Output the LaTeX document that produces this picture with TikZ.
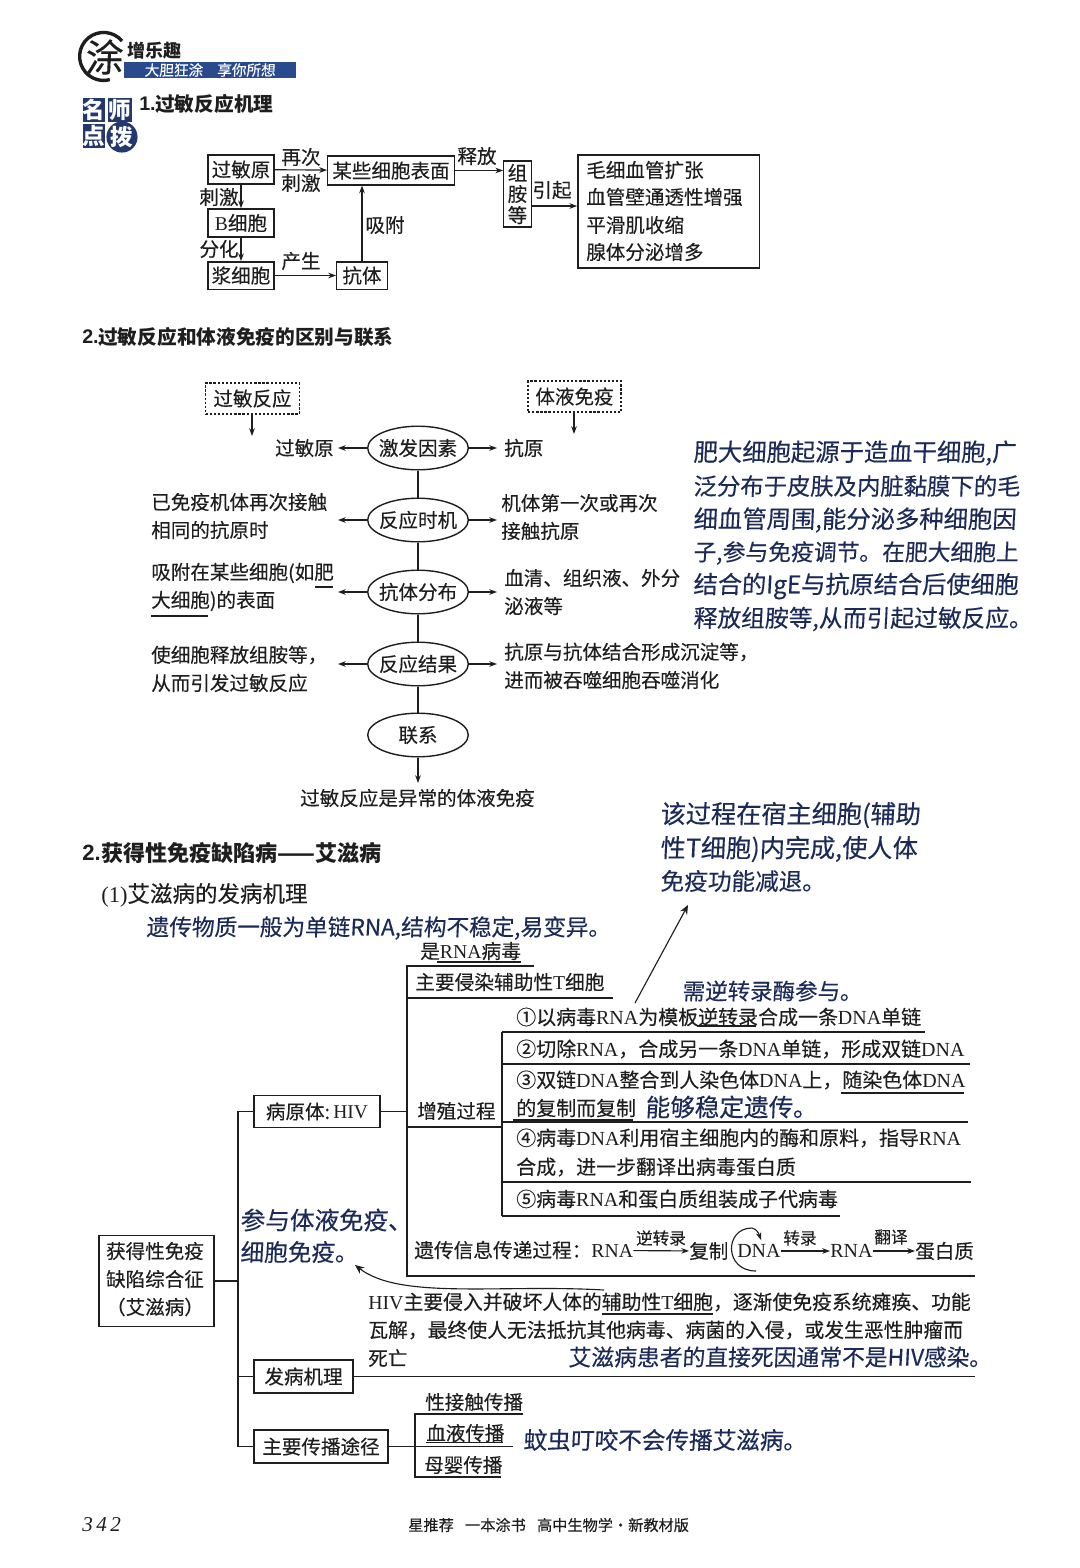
\documentclass[tikz,border=0pt]{standalone}
\usepackage{fontspec}
\setmainfont{Noto Sans CJK SC}[FakeBold=0.2,BoldFeatures={FakeBold=0}]
\newfontfamily\latinfont{Liberation Serif}
\newfontfamily\headfont{Liberation Sans}[BoldFont={Liberation Sans Bold}]
\newfontfamily\handfont[FakeSlant=0.05,FakeBold=0.25]{Noto Sans CJK SC}
\newcommand{\lat}[1]{{\latinfont #1}}
\newcommand{\zc}{\char"FF0C\relax}
\newcommand{\zm}{\char"FF1A\relax}
\newcommand{\zl}{\char"FF08\relax}
\newcommand{\zr}{\char"FF09\relax}
\usetikzlibrary{arrows.meta,shapes.geometric}
\definecolor{ink}{HTML}{1E1E1E}
\definecolor{handblue}{HTML}{1C2A58}
\definecolor{barblue}{HTML}{2A4A8E}
\definecolor{darkblue}{HTML}{24386E}
\tikzset{
  printed/.style={font=\fontsize{13.9}{16}\selectfont,text=ink,inner sep=0pt,anchor=west},
  stepline/.style={font=\fontsize{14.2}{16}\selectfont,text=ink,inner sep=0pt,anchor=west},
  small/.style={font=\fontsize{11.8}{13}\selectfont,text=ink,inner sep=0pt},
  heading/.style={font=\fontsize{14}{16}\selectfont\bfseries,text=ink,inner sep=0pt,anchor=west},
  bighead/.style={font=\fontsize{15.7}{18}\selectfont\bfseries,text=ink,inner sep=0pt,anchor=west},
  hand/.style={font=\handfont\fontsize{#1}{20}\selectfont,text=handblue,inner sep=0pt,anchor=west},
  hand/.default=16.8,
  box/.style={draw=ink,line width=1pt,inner sep=0pt,font=\fontsize{13.9}{16}\selectfont,text=ink},
  dashbox/.style={box,dashed,dash pattern=on 1.6pt off 1.3pt},
  oval/.style={box,ellipse,inner xsep=-2.5pt,minimum width=71.5pt,minimum height=31pt},
  arr/.style={draw=ink,line width=0.8pt,-{Stealth[length=5.5pt,width=4pt]}},
  longarr/.style={draw=ink,line width=0.8pt,-{Stealth[length=6.5pt,width=5.5pt]}},
  branch/.style={draw=ink,line width=1pt},
  underl/.style={draw=ink,line width=0.9pt},
  tag/.style={fill=darkblue,text=white,inner sep=0pt,font=\fontsize{16}{16}\selectfont\bfseries},
}
\begin{document}
\begin{tikzpicture}[x=0.025cm,y=-0.025cm]
\useasboundingbox[fill=white] (0,0) rectangle (1080,1568);
% logo
\draw[ink,line width=2.4pt] (122,41) arc (-40:-285:24);
\node[font=\handfont\fontsize{27}{27}\selectfont,text=ink,inner sep=0pt] (logotu) at (104,57) {涂};
\node[font=\fontsize{12.8}{14}\selectfont\bfseries,text=ink,inner sep=0pt,anchor=west] (logoname) at (127,51) {增乐趣};
\node[fill=barblue,minimum width=123pt,minimum height=11.4pt,inner sep=0pt] (logobar) at (210,70) {};
\node[font=\handfont\fontsize{10.4}{11}\selectfont,text=white,inner sep=0pt] (logotext) at (210,70) {大胆狂涂\hspace{10pt}享你所想};
\node[tag,minimum width=15.5pt,minimum height=17pt] (tagming) at (94,110) {名};
\node[tag,minimum width=17pt,minimum height=17pt] (tagshi) at (120,110) {师};
\node[tag,minimum width=15.5pt,minimum height=17pt] (tagdian) at (94,136) {点};
\node[tag,circle,minimum size=17pt] (tagbo) at (122,137) {拨};
\node[heading] (title1) at (139,104) {\headfont\bfseries 1.};
\node[heading] (title1b) at (155,104) {过敏反应机理};
% mechanism
\node[box,minimum width=47pt,minimum height=20.5pt] (allergen) at (241,169.5) {过敏原};
\node[box,minimum width=90pt,minimum height=20.5pt] (cellsurf) at (391,170.5) {某些细胞表面};
\node[box,minimum width=19.5pt,minimum height=47pt,align=center] (histamine) at (517.5,194) {组\\[-1pt]胺\\[-1pt]等};
\node[box,minimum width=129pt,minimum height=80.5pt] (effects) at (668.5,211.5) {};
\node[box,minimum width=47pt,minimum height=20pt] (bcell) at (241,223) {\lat{B}细胞};
\node[box,minimum width=47pt,minimum height=19.5pt] (plasma) at (241,275.5) {浆细胞};
\node[box,minimum width=36pt,minimum height=19.5pt] (antibody) at (362,275.5) {抗体};
\coordinate (causestart) at (531,206);
\draw[arr] (allergen) -- (cellsurf);
\draw[arr] (allergen.south) -- (bcell.north);
\draw[arr] (bcell.south) -- (plasma.north);
\draw[arr] (plasma) -- (antibody);
\draw[arr] (antibody) -- (cellsurf.south -| antibody);
\draw[arr] (cellsurf) -- (cellsurf -| histamine.west);
\draw[arr] (causestart) -- (causestart -| effects.west);
\node[printed,anchor=center] (lagain) at (301,157) {再次};
\node[printed,anchor=center] (lstim) at (301,183) {刺激};
\node[printed,anchor=center] (lstimb) at (219,197) {刺激};
\node[printed,anchor=center] (ldiff) at (219,249) {分化};
\node[printed,anchor=center] (lmake) at (301,261) {产生};
\node[printed,anchor=center] (ladsorb) at (385,225) {吸附};
\node[printed,anchor=center] (lrelease) at (477,156) {释放};
\node[printed,anchor=center] (lcause) at (552,190) {引起};
\node[printed] (eff1) at (586,170) {毛细血管扩张};
\node[printed] (eff2) at (586,197) {血管壁通透性增强};
\node[printed] (eff3) at (586,225) {平滑肌收缩};
\node[printed] (eff4) at (586,252) {腺体分泌增多};
% comparison
\node[heading] (title2) at (82,337) {\headfont\bfseries 2.};
\node[heading] (title2b) at (98,337) {过敏反应和体液免疫的区别与联系};
\node[dashbox,minimum width=66.5pt,minimum height=22pt] (allergy) at (252.5,398.5) {过敏反应};
\node[dashbox,minimum width=66pt,minimum height=22pt] (humoral) at (574.5,396.5) {体液免疫};
\coordinate (allergyend) at (252,436);
\coordinate (humoralend) at (574,434);
\draw[arr] (allergy.south -| allergyend) -- (allergyend);
\draw[arr] (humoral.south -| humoralend) -- (humoralend);
\node[oval] (factor) at (418,448) {激发因素};
\node[oval] (timing) at (418,520) {反应时机};
\node[oval] (spread) at (418,592) {抗体分布};
\node[oval] (result) at (418,664) {反应结果};
\node[oval] (link) at (418,735) {联系};
\draw[branch] (factor) -- (timing);
\draw[branch] (timing) -- (spread);
\draw[branch] (spread) -- (result);
\draw[branch] (result) -- (link);
\node[printed,anchor=east] (lfactor) at (334,448) {过敏原};
\node[printed] (rfactor) at (504,448) {抗原};
\node[printed] (ltime1) at (151,502) {已免疫机体再次接触};
\node[printed] (ltime2) at (151,530) {相同的抗原时};
\node[printed] (rtime1) at (501,503) {机体第一次或再次};
\node[printed] (rtime2) at (501,531) {接触抗原};
\node[printed] (lspread1) at (151,573) {吸附在某些细胞(如肥};
\node[printed] (lspread2) at (151,601) {大细胞)的表面};
\node[printed] (rspread1) at (504,578) {血清、组织液、外分};
\node[printed] (rspread2) at (504,606) {泌液等};
\node[printed] (lresult1) at (151,655) {使细胞释放组胺等\zc};
\node[printed] (lresult2) at (151,683) {从而引发过敏反应};
\node[printed] (rresult1) at (504,652) {抗原与抗体结合形成沉淀等\zc};
\node[printed] (rresult2) at (504,680) {进而被吞噬细胞吞噬消化};
\node[printed,anchor=center] (linktext) at (417.5,798) {过敏反应是异常的体液免疫};
\coordinate (ltimeend) at (338,520);
\coordinate (lspreadend) at (338,592);
\coordinate (lresultend) at (338,664);
\coordinate (lfactorend) at (338,448);
\coordinate (rfactorend) at (497,448);
\coordinate (rtimeend) at (497,520);
\coordinate (rspreadend) at (497,592);
\coordinate (rresultend) at (497,664);
\coordinate (linkend) at (418,783);
\draw[arr] (factor) -- (lfactorend);
\draw[arr] (timing) -- (ltimeend);
\draw[arr] (spread) -- (lspreadend);
\draw[arr] (result) -- (lresultend);
\draw[arr] (factor) -- (rfactorend);
\draw[arr] (timing) -- (rtimeend);
\draw[arr] (spread) -- (rspreadend);
\draw[arr] (result) -- (rresultend);
\draw[arr] (link) -- (linkend);
\draw[underl] (315,587) -- (333,587);
\draw[underl] (151,616) -- (208,616);
% notes on the right
\node[hand=17.3] (mast1) at (693,453) {肥大细胞起源于造血干细胞,广};
\node[hand=16.6] (mast2) at (693,486) {泛分布于皮肤及内脏黏膜下的毛};
\node[hand=17.3] (mast3) at (693,520) {细血管周围,能分泌多种细胞因};
\node[hand=16.2] (mast4) at (693,553) {子,参与免疫调节。在肥大细胞上};
\node[hand=17.2] (mast5) at (693,586) {结合的IgE与抗原结合后使细胞};
\node[hand=16.9] (mast6) at (693,619) {释放组胺等,从而引起过敏反应。};
\node[hand=17.9] (host1) at (660,815) {该过程在宿主细胞(辅助};
\node[hand=17.9] (host2) at (660,849) {性T细胞)内完成,使人体};
\node[hand] (host3) at (660,881) {免疫功能减退。};
% aids
\node[bighead] (title3) at (82,853) {\headfont\bfseries 2.};
\node[bighead] (title3b) at (101,853) {获得性免疫缺陷病——艾滋病};
\node[printed,font=\fontsize{16}{18}\selectfont] (title4) at (101,895) {\lat{(1)}艾滋病的发病机理};
\node[hand=16.1] (genes) at (146,928) {遗传物质一般为单链RNA,结构不稳定,易变异。};
\node[printed,font=\fontsize{14}{16}\selectfont] (rnavirus) at (420,951) {是\lat{RNA}病毒};
\node[printed,font=\fontsize{14}{16}\selectfont] (target) at (415,982) {主要侵染辅助性\lat{T}细胞};
\node[hand=16] (enzyme) at (682,991) {需逆转录酶参与。};
\node[stepline] (step1) at (516,1017) {①以病毒\lat{RNA}为模板逆转录合成一条\lat{DNA}单链};
\node[stepline] (step2) at (516,1049) {②切除\lat{RNA}\zc 合成另一条\lat{DNA}单链\zc 形成双链\lat{DNA}};
\node[stepline] (step3) at (516,1080) {③双链\lat{DNA}整合到人染色体\lat{DNA}上\zc 随染色体\lat{DNA}};
\node[stepline] (step3b) at (516,1108) {的复制而复制};
\node[hand=17.5] (stable) at (645,1107) {能够稳定遗传。};
\node[stepline] (step4) at (516,1138) {④病毒\lat{DNA}利用宿主细胞内的酶和原料\zc 指导\lat{RNA}};
\node[stepline] (step4b) at (516,1167) {合成\zc 进一步翻译出病毒蛋白质};
\node[stepline] (step5) at (516,1199) {⑤病毒\lat{RNA}和蛋白质组装成子代病毒};
\node[printed] (prolif) at (417,1111) {增殖过程};
\node[printed,font=\fontsize{14}{16}\selectfont] (flowname) at (414,1250) {遗传信息传递过程\zm\lat{RNA}};
\node[printed] (copy) at (689,1251) {复制};
\node[stepline] (dna) at (737,1251) {\lat{DNA}};
\node[stepline] (rna) at (830,1251) {\lat{RNA}};
\node[printed] (protein) at (915,1251) {蛋白质};
\draw[arr] (flowname) -- (copy);
\draw[arr] (dna) -- (rna);
\draw[arr] (rna) -- (protein);
\node[small] (revtrans) at (661,1238) {逆转录};
\node[small] (trans) at (800,1238) {转录};
\node[small] (transl) at (891,1237) {翻译};
\draw[arr] (756,1271) .. controls (724,1271) and (724,1228) .. (752,1228) .. controls (757,1229) and (759,1234) .. (761,1240);
\node[box,minimum width=82pt,minimum height=65pt] (aidsbox) at (156.5,1281) {};
\node[printed,anchor=center] (aids1) at (155,1251) {获得性免疫};
\node[printed,anchor=center] (aids2) at (155,1279) {缺陷综合征};
\node[printed,anchor=center] (aids3) at (155,1307) {\zl 艾滋病\zr};
\node[box,minimum width=89.5pt,minimum height=23pt] (pathogen) at (317,1111.5) {病原体:\,\lat{HIV}};
\node[box,minimum width=70.5pt,minimum height=23.5pt] (pathway) at (303.5,1376.5) {发病机理};
\node[box,minimum width=95.5pt,minimum height=23.5pt] (spreadway) at (321,1446.5) {主要传播途径};
\coordinate (trunktop) at (238,1111.5);
\coordinate (trunkmid) at (238,1281);
\coordinate (trunkpath) at (238,1376.5);
\coordinate (trunkend) at (238,1446.5);
\draw[branch] (aidsbox) -- (trunkmid);
\draw[branch] (pathogen) -- (trunktop) -- (trunkend) -- (spreadway);
\draw[branch] (trunkpath) -- (pathway);
\coordinate (pathend) at (975,1376.5);
\draw[branch] (pathway) -- (pathend);
\coordinate (treetop) at (407,966);
\coordinate (treemid) at (407,1111.5);
\coordinate (treebottom) at (407,1276);
\coordinate (treetopend) at (534,966);
\coordinate (treetarget) at (407,998);
\coordinate (treetargetend) at (613,998);
\coordinate (treeprolif) at (407,1127);
\coordinate (treebottomend) at (975,1276);
\draw[branch] (pathogen) -- (treemid);
\draw[branch] (treetopend) -- (treetop) -- (treebottom) -- (treebottomend);
\draw[branch] (treetarget) -- (treetargetend);
\coordinate (stepknee) at (502,1127);
\draw[branch] (treeprolif) -- (stepknee);
\coordinate (stepa) at (502,1032);
\coordinate (stepb) at (502,1064);
\coordinate (stepc) at (502,1122);
\coordinate (stepd) at (502,1182);
\coordinate (stepe) at (502,1216);
\draw[branch] (stepa) -- (stepe);
\draw[branch] (stepa) -- (925,1032);
\draw[branch] (stepb) -- (970,1064);
\draw[branch] (stepc) -- (968,1122);
\draw[branch] (stepd) -- (971,1182);
\draw[branch] (stepe) -- (840,1216);
\draw[underl] (437,962) -- (521,962);
\draw[underl] (697,1026) -- (756,1026);
\draw[underl] (841,1093) -- (964,1093);
\draw[underl] (513,1120) -- (633,1120);
\draw[underl] (602,1314) -- (713,1314);
\node[hand=17.5] (immune1) at (240,1220) {参与体液免疫、};
\node[hand] (immune2) at (240,1252) {细胞免疫。};
\node[printed,font=\fontsize{14.1}{16}\selectfont] (hiv1) at (368,1302) {\lat{HIV}主要侵入并破坏人体的辅助性\lat{T}细胞\zc 逐渐使免疫系统瘫痪、功能};
\node[printed,font=\fontsize{14.1}{16}\selectfont] (hiv2) at (368,1330) {瓦解\zc 最终使人无法抵抗其他病毒、病菌的入侵\zc 或发生恶性肿瘤而};
\node[printed] (hiv3) at (368,1358) {死亡};
\node[hand=16.2] (death) at (568,1357) {艾滋病患者的直接死因通常不是HIV感染。};
\coordinate (curvestart) at (604,1290);
\draw[longarr] (curvestart) .. controls (500,1284) and (400,1300) .. (355,1265);
\coordinate (hostarrowstart) at (635,1003);
\coordinate (hostarrowend) at (688,905);
\draw[longarr] (hostarrowstart) -- (hostarrowend);
% routes
\node[printed] (route1) at (425,1402) {性接触传播};
\node[printed] (route2) at (426,1433) {血液传播};
\node[printed] (route3) at (424,1465) {母婴传播};
\node[hand] (mosquito) at (523,1440) {蚊虫叮咬不会传播艾滋病。};
\coordinate (routetop) at (415,1414);
\coordinate (routemid) at (415,1446.5);
\coordinate (routebottom) at (415,1477);
\draw[branch] (spreadway) -- (routemid);
\draw[branch] (523,1414) -- (routetop) -- (routebottom) -- (501,1477);
\draw[branch] (routemid) -- (513,1446.5);
\draw[underl] (426,1442.5) -- (503,1442.5);
% footer
\node[font=\latinfont\itshape\fontsize{15}{16}\selectfont,text=ink,inner sep=0pt,anchor=west] (pagenum) at (82,1525) {3\,4\,2};
\node[font=\fontsize{10.8}{12}\selectfont,text=ink,inner sep=0pt,anchor=west] (footer) at (408,1525) {星推荐\hspace{8pt}一本涂书\hspace{8pt}高中生物学·新教材版};
\end{tikzpicture}
\end{document}
